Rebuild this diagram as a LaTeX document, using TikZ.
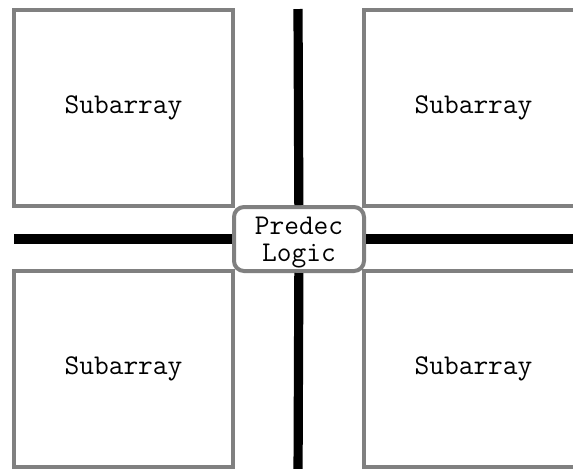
\documentclass[tikz,border=0pt]{standalone}
\usepackage{fontspec}
\definecolor{boxgray}{RGB}{128,128,128}
\tikzset{
  subarray/.style={
    draw=boxgray, line width=2pt, fill=white,
    minimum width=109.5pt, minimum height=98pt, inner sep=0pt
  },
  predec/.style={
    draw=boxgray, line width=2pt, fill=white, rounded corners=5pt,
    minimum width=65pt, minimum height=32pt, inner sep=0pt, align=center,
    text depth=0pt
  },
  bus/.style={line width=4.6pt, black}
}

\begin{document}
\begin{tikzpicture}[x=0.5pt, y=-0.5pt, font=\ttfamily\fontsize{14.3pt}{13.4pt}\selectfont]
    \useasboundingbox (0,0) rectangle (573,468);

    % Subarrays in the four quadrants
    \node[subarray] (SA1) at (123.5,108) {Subarray};
    \node[subarray] (SA2) at (473.5,108) {Subarray};
    \node[subarray] (SA3) at (123.5,369) {Subarray};
    \node[subarray] (SA4) at (473.5,369) {Subarray};

    % Predecoder in the middle
    \node[predec] (PD) at (299,239) {Predec\\Logic};

    % Bus end points
    \coordinate (busN) at (298,9);
    \coordinate (busS) at (298,480);
    \coordinate (busW) at (14,239);
    \coordinate (busE) at (590,239);

    % Decoder buses
    \draw[bus] (busN) -- (PD);
    \draw[bus] (PD) -- (busS);
    \draw[bus] (busW) -- (PD);
    \draw[bus] (PD) -- (busE);

\end{tikzpicture}
\end{document}
